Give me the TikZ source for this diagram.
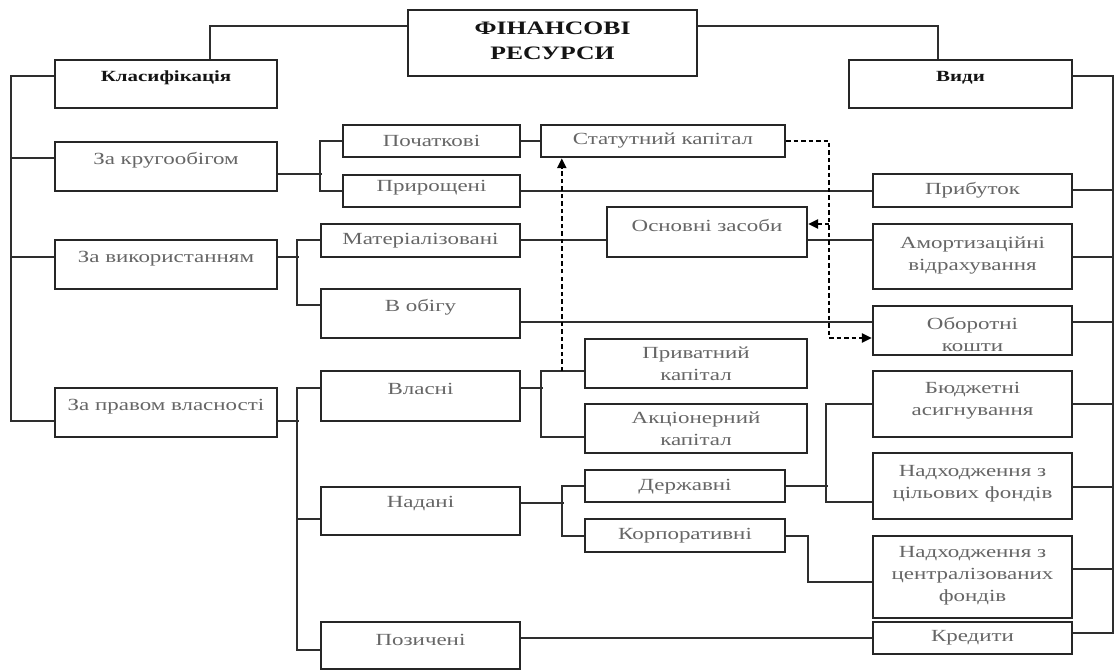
\documentclass[tikz,border=0pt]{standalone}
\usepackage{fontspec}
\setmainfont{Liberation Serif}[FakeStretch=1.35]
\usetikzlibrary{arrows.meta}
\begin{document}
\begin{tikzpicture}[x=1pt,y=-1pt,
  box/.style={draw=black!85, line width=2.4pt, inner sep=0pt, fill=white},
  txt/.style={text=black!60, font=\fontsize{17}{22}\selectfont, align=center, inner sep=0pt},
  btxt/.style={text=black!92, font=\fontsize{15.5}{25}\selectfont\bfseries, align=center, inner sep=0pt},
  ttxt/.style={text=black!92, font=\fontsize{19}{25}\selectfont\bfseries, align=center, inner sep=0pt},
  link/.style={draw=black!82, line width=2pt},
  flow/.style={draw=black, line width=2.3pt, dash pattern=on 4.5pt off 3pt,
    -{Triangle[length=10pt,width=9pt]}},
]
\useasboundingbox (0,0) rectangle (1114,671);

% heading and the two main branches
\node[box, minimum width=289pt, minimum height=66pt,
  label={[ttxt,yshift=2pt]center:ФІНАНСОВІ\\РЕСУРСИ}] (tt) at (552.5,43) {};
\node[box, minimum width=222pt, minimum height=48pt,
  label={[btxt,yshift=6pt]center:Класифікація}] (kl) at (166,84) {};
\node[box, minimum width=223pt, minimum height=48pt,
  label={[btxt,yshift=6pt]center:Види}] (vy) at (960.5,84) {};

% classification criteria
\node[box, minimum width=222pt, minimum height=49pt,
  label={[txt,yshift=6pt]center:За кругообігом}] (kr) at (166,166.5) {};
\node[box, minimum width=222pt, minimum height=49pt,
  label={[txt,yshift=6pt]center:За використанням}] (vk) at (166,264.5) {};
\node[box, minimum width=222pt, minimum height=49pt,
  label={[txt,yshift=6pt]center:За правом власності}] (pv) at (166,412.5) {};

% second level
\node[box, minimum width=177pt, minimum height=32pt,
  label={[txt]center:Початкові}] (pc) at (431.5,141) {};
\node[box, minimum width=177pt, minimum height=32pt,
  label={[txt,yshift=3pt]center:Прирощені}] (pr) at (431.5,191) {};
\node[box, minimum width=199pt, minimum height=33pt,
  label={[txt]center:Матеріалізовані}] (mt) at (420.5,240.5) {};
\node[box, minimum width=199pt, minimum height=49pt,
  label={[txt,yshift=6pt]center:В обігу}] (vo) at (420.5,313.5) {};
\node[box, minimum width=199pt, minimum height=50pt,
  label={[txt,yshift=7pt]center:Власні}] (vl) at (420.5,396) {};
\node[box, minimum width=199pt, minimum height=48pt,
  label={[txt,yshift=7pt]center:Надані}] (nd) at (420.5,511) {};
\node[box, minimum width=199pt, minimum height=47pt,
  label={[txt,yshift=6pt]center:Позичені}] (pz) at (420.5,645.5) {};

% third level
\node[box, minimum width=244pt, minimum height=32pt,
  label={[txt]center:Статутний капітал}] (st) at (663,141) {};
\node[box, minimum width=200pt, minimum height=50pt,
  label={[txt,yshift=7pt]center:Основні засоби}] (oz) at (707,232) {};
\node[box, minimum width=222pt, minimum height=49pt,
  label={[txt]center:Приватний\\капітал}] (pk) at (696,363.5) {};
\node[box, minimum width=222pt, minimum height=49pt,
  label={[txt]center:Акціонерний\\капітал}] (ak) at (696,428.5) {};
\node[box, minimum width=200pt, minimum height=32pt,
  label={[txt,yshift=-1pt]center:Державні}] (dz) at (685,486) {};
\node[box, minimum width=200pt, minimum height=33pt,
  label={[txt]center:Корпоративні}] (kp) at (685,535.5) {};

% kinds of resources
\node[box, minimum width=199pt, minimum height=33pt,
  label={[txt]center:Прибуток}] (pb) at (972.5,190.5) {};
\node[box, minimum width=199pt, minimum height=65pt,
  label={[txt,yshift=1pt]center:Амортизаційні\\відрахування}] (am) at (972.5,256.5) {};
\node[box, minimum width=199pt, minimum height=49pt,
  label={[txt,yshift=-4pt]center:Оборотні\\кошти}] (ob) at (972.5,330.5) {};
\node[box, minimum width=199pt, minimum height=66pt,
  label={[txt,yshift=3pt]center:Бюджетні\\асигнування}] (bd) at (972.5,404) {};
\node[box, minimum width=199pt, minimum height=66pt,
  label={[txt,yshift=2pt]center:Надходження з\\цільових фондів}] (nc) at (972.5,486) {};
\node[box, minimum width=199pt, minimum height=82pt,
  label={[txt,yshift=1pt]center:Надходження з\\централізованих\\фондів}] (ncz) at (972.5,577) {};
\node[box, minimum width=199pt, minimum height=32pt,
  label={[txt]center:Кредити}] (kd) at (972.5,638) {};

% heading to branches
\draw[link] ([yshift=17pt]tt.west) -| ([xshift=44pt]kl.north);
\draw[link] ([yshift=17pt]tt.east) -| ([xshift=-22.5pt]vy.north);

% left trunk
\draw[link] ([yshift=8pt]kl.west) -- ++(-43,0) coordinate (ltr)
  |- ([yshift=-8.5pt]pv.west);
\draw[link] ([yshift=8.5pt]kr.west) -- ([yshift=8.5pt]kr.west -| ltr);
\draw[link] ([yshift=7.5pt]vk.west) -- ([yshift=7.5pt]vk.west -| ltr);

% by circulation
\draw[link] ([yshift=-7.5pt]kr.east) -- ++(44,0);
\draw[link] (pc.west) -- ++(-22,0) |- (pr.west);
\draw[link] (pc.east) -- (st.west);
\draw[link] (pr.east) -- (pr.east -| pb.west);

% by use
\draw[link] ([yshift=7.5pt]vk.east) -- ++(21,0);
\draw[link] (mt.west) -- ++(-23,0) |- ([yshift=8.5pt]vo.west);
\draw[link] (mt.east) -- (mt.east -| oz.west);
\draw[link] (oz.east |- mt.east) -- (am.west |- mt.east);
\draw[link] ([yshift=-8.5pt]vo.east) -- ([yshift=8.5pt]ob.west);

% by ownership
\draw[link] ([yshift=-8.5pt]pv.east) -- ++(21,0);
\draw[link] ([yshift=8pt]vl.west) -- ++(-23,0) |- ([yshift=-4.5pt]pz.west);
\draw[link] ([yshift=-8pt]nd.west) -- ++(-23,0);
\draw[link] ([yshift=8pt]vl.east) -- ++(22,0);
\draw[link] ([yshift=-7.5pt]pk.west) -- ++(-43,0) |- ([yshift=-8.5pt]ak.west);
\draw[link] ([yshift=8pt]nd.east) -- ++(43,0);
\draw[link] (dz.west) -- ++(-22,0) |- (kp.west);
\draw[link] (dz.east) -- ++(42,0);
\draw[link] (bd.west) -- ++(-46,0) |- ([yshift=-16pt]nc.west);
\draw[link] (kp.east) -- ++(22,0) |- ([yshift=-5pt]ncz.west);
\draw[link] ([yshift=7.5pt]pz.east) -- (kd.west);

% right trunk
\draw[link] ([yshift=8pt]vy.east) -- ++(40,0) coordinate (rtr)
  |- ([yshift=5pt]kd.east);
\draw[link] (pb.east) -- (pb.east -| rtr);
\draw[link] ([yshift=-0.5pt]am.east) -- ([yshift=-0.5pt]am.east -| rtr);
\draw[link] ([yshift=8.5pt]ob.east) -- ([yshift=8.5pt]ob.east -| rtr);
\draw[link] (bd.east) -- (bd.east -| rtr);
\draw[link] ([yshift=-1pt]nc.east) -- ([yshift=-1pt]nc.east -| rtr);
\draw[link] ([yshift=8pt]ncz.east) -- ([yshift=8pt]ncz.east -| rtr);

% flows of capital
\coordinate (dA) at ([xshift=-22pt,yshift=-7.5pt]pk.west);
\draw[flow] (dA) -- (dA |- st.south);
\draw[flow] (st.east) -- ++(43,0) |- ([yshift=-7.5pt]ob.west);
\draw[flow] ([xshift=21pt,yshift=8pt]oz.east) -- ([yshift=8pt]oz.east);
\end{tikzpicture}
\end{document}
